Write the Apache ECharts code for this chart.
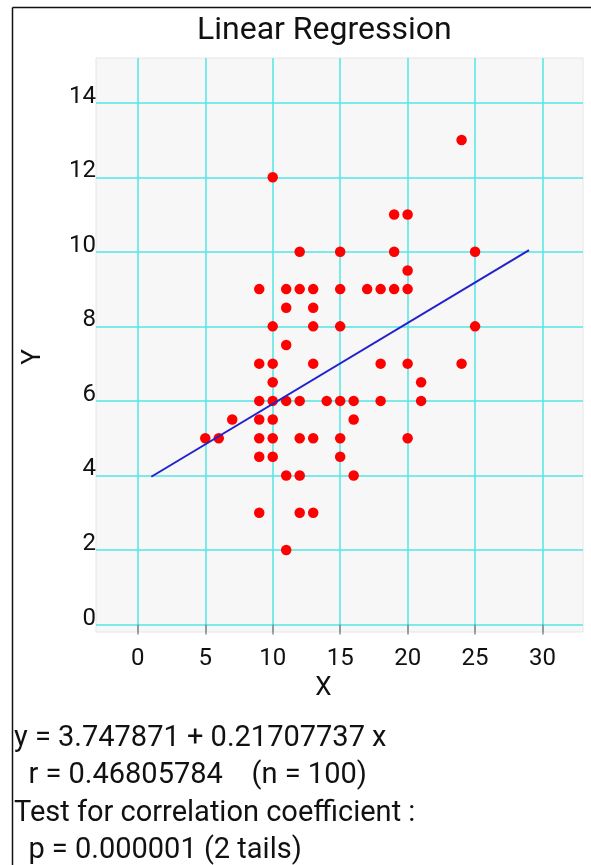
<!DOCTYPE html>
<html>
<head>
<meta charset="utf-8">
<script src="https://cdn.jsdelivr.net/npm/echarts@6/dist/echarts.min.js"></script>
<style>
html,body{margin:0;padding:0;background:#fff;}
#c{width:591px;height:865px;}
</style>
</head>
<body>
<div id="c"></div>
<script>
// ---- data ----
var titleText = 'Linear Regression';
var xName = 'X';
var yName = 'Y';
var xTicks = [0, 5, 10, 15, 20, 25, 30];
var yTicks = [0, 2, 4, 6, 8, 10, 12, 14];
var xs = [24, 10, 19, 20, 12, 15, 19, 25, 20,
  9, 11, 12, 13, 15, 17, 18, 19, 20,
  11, 13,
  10, 13, 15, 25,
  11,
  9, 10, 13, 18, 20, 24,
  10, 21,
  9, 10, 11, 12, 14, 15, 16, 18, 21,
  7, 9, 10, 16,
  5, 6, 9, 10, 12, 13, 15, 20,
  9, 10, 15,
  11, 12, 16,
  9, 12, 13,
  11];
var ys = [13, 12, 11, 11, 10, 10, 10, 10, 9.5,
  9, 9, 9, 9, 9, 9, 9, 9, 9,
  8.5, 8.5,
  8, 8, 8, 8,
  7.5,
  7, 7, 7, 7, 7, 7,
  6.5, 6.5,
  6, 6, 6, 6, 6, 6, 6, 6, 6,
  5.5, 5.5, 5.5, 5.5,
  5, 5, 5, 5, 5, 5, 5, 5,
  4.5, 4.5, 4.5,
  4, 4, 4,
  3, 3, 3,
  2];
var intercept = 3.747871;
var slope = 0.21707737;
var lineXs = [1, 29];
var statsLines = [
  'y = 3.747871 + 0.21707737 x',
  '  r = 0.46805784    (n = 100)',
  'Test for correlation coefficient :',
  '  p = 0.000001 (2 tails)'
];

// ---- build ----
var points = xs.map(function (x, i) { return [x, ys[i]]; });
var linePts = lineXs.map(function (x) { return [x, intercept + slope * x]; });
var FONT = 'Roboto';
var gridColor = '#55E6E6';

var chart = echarts.init(document.getElementById('c'), null, {renderer: 'canvas'});
var statsGraphics = statsLines.map(function (t, i) {
  return {
    type: 'text', left: 14, top: 724 + i * 37.5, z: 10,
    style: {text: t, font: '29px ' + FONT, fill: '#111'}
  };
});
chart.setOption({
  animation: false,
  backgroundColor: '#ffffff',
  textStyle: {fontFamily: FONT},
  title: {
    text: titleText, left: 192, top: 10,
    textStyle: {fontFamily: FONT, fontSize: 32, fontWeight: 'normal', color: '#111'}
  },
  grid: {
    left: 96, right: 8, top: 58, bottom: 233,
    show: true, backgroundColor: '#F7F7F7', borderColor: '#E6E6E6', borderWidth: 1
  },
  xAxis: {
    type: 'value', min: -3.1, max: 33,
    name: xName, nameLocation: 'middle', nameGap: 42,
    nameTextStyle: {fontFamily: FONT, fontSize: 26, color: '#111', padding: [0, 32, 0, 0]},
    axisLine: {show: false},
    axisTick: {show: true, length: 10, customValues: xTicks, lineStyle: {color: '#888', width: 1.5}},
    axisLabel: {customValues: xTicks, fontFamily: FONT, fontSize: 24, color: '#111', margin: 15},
    splitLine: {show: true, lineStyle: {color: gridColor, width: 1.5}}
  },
  yAxis: {
    type: 'value', min: -0.2, max: 15.2,
    name: yName, nameLocation: 'middle', nameGap: 50, nameRotate: 90,
    nameTextStyle: {fontFamily: FONT, fontSize: 26, color: '#111', padding: [0, 24, 0, 0]},
    axisLine: {show: false},
    axisTick: {show: false, customValues: yTicks},
    axisLabel: {customValues: yTicks, fontFamily: FONT, fontSize: 24, color: '#111', margin: 0,
      verticalAlign: 'bottom', lineHeight: 12},
    splitLine: {show: true, lineStyle: {color: gridColor, width: 1.5}}
  },
  graphic: [
    {type: 'line', shape: {x1: 12.5, y1: 7.5, x2: 591, y2: 7.5}, style: {stroke: '#111', lineWidth: 1.5}, z: 10},
    {type: 'line', shape: {x1: 12.5, y1: 7.5, x2: 12.5, y2: 865}, style: {stroke: '#111', lineWidth: 1.5}, z: 10}
  ].concat(statsGraphics),
  series: [
    {
      type: 'scatter', data: points, symbolSize: 10.5,
      itemStyle: {color: '#FF0000', opacity: 1}
    },
    {
      type: 'line', data: linePts, showSymbol: false, symbol: 'none',
      lineStyle: {color: '#2222CC', width: 2}, z: 3
    }
  ]
});
</script>
</body>
</html>
